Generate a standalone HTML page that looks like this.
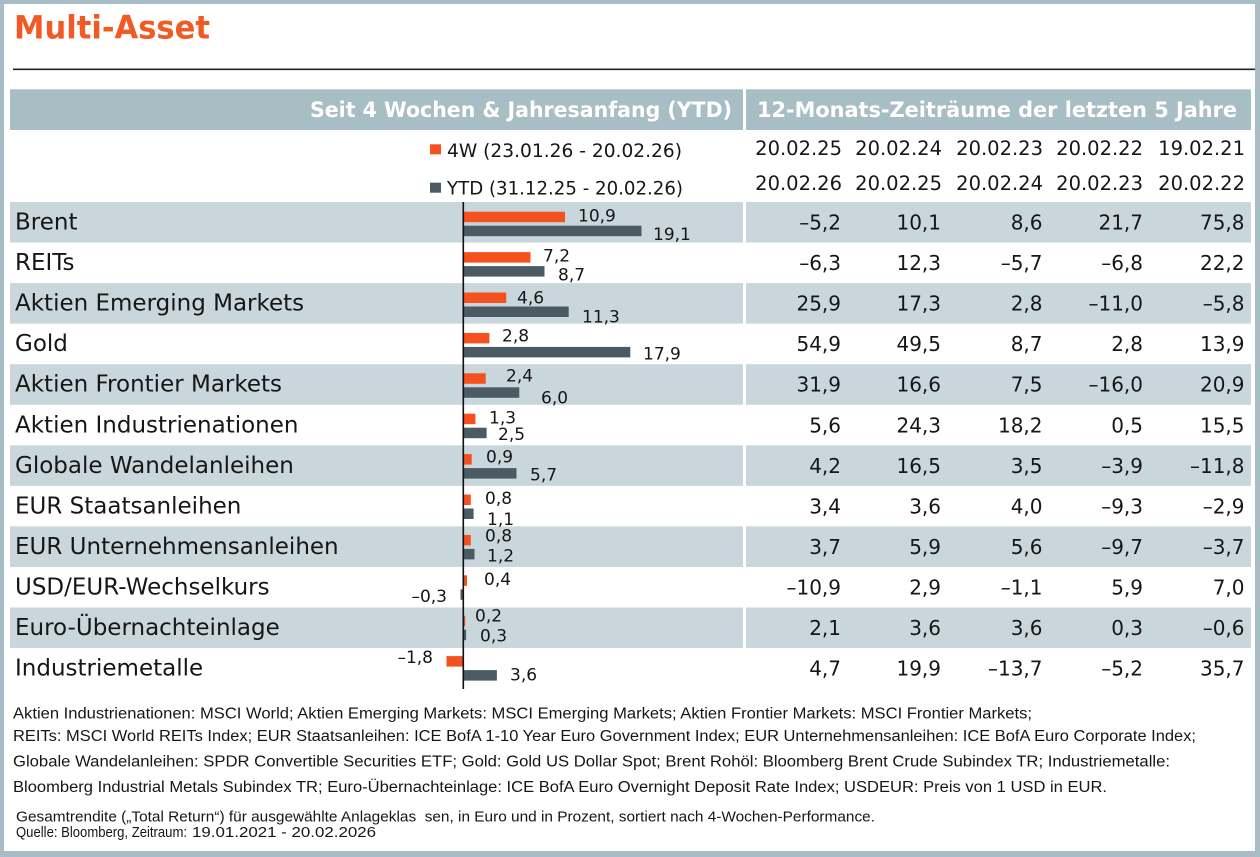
<!DOCTYPE html>
<html>
<head>
<meta charset="utf-8">
<style>
html,body{margin:0;padding:0;background:#a6bdc5;}
svg{display:block;}
.t{font-family:"DejaVu Sans","Liberation Sans",sans-serif;fill:#161616;}
.lbl{font-family:"DejaVu Sans","Liberation Sans",sans-serif;font-size:23px;fill:#161616;}
.val{font-family:"DejaVu Sans","Liberation Sans",sans-serif;font-size:20px;fill:#161616;text-anchor:end;}
.bl{font-family:"DejaVu Sans","Liberation Sans",sans-serif;font-size:17px;fill:#161616;}
.fn{font-family:"Liberation Sans",sans-serif;font-size:15.5px;fill:#161616;}
.fn2{font-family:"Liberation Sans",sans-serif;font-size:14.5px;fill:#161616;white-space:pre;}
</style>
</head>
<body>
<svg width="1260" height="857" viewBox="0 0 1260 857" xmlns="http://www.w3.org/2000/svg">
<rect x="0" y="0" width="1260" height="857" fill="#a6bdc5"/>
<rect x="4" y="4" width="1251" height="847" fill="#ffffff"/>

<!-- Title -->
<text x="14" y="38.5" font-family="DejaVu Sans, Liberation Sans, sans-serif" font-size="32" font-weight="bold" fill="#f15a24" textLength="196" lengthAdjust="spacingAndGlyphs">Multi-Asset</text>
<line x1="13" y1="69.3" x2="1255" y2="69.3" stroke="#222" stroke-width="1.6"/>

<!-- Header bands -->
<rect x="10" y="89.3" width="733" height="40.7" fill="#a8bec5"/>
<rect x="746" y="89.3" width="505" height="40.7" fill="#a8bec5"/>
<text x="310" y="117" font-family="DejaVu Sans, Liberation Sans, sans-serif" font-size="21" font-weight="bold" fill="#ffffff" textLength="422" lengthAdjust="spacingAndGlyphs">Seit 4 Wochen &amp; Jahresanfang (YTD)</text>
<text x="757" y="117" font-family="DejaVu Sans, Liberation Sans, sans-serif" font-size="21" font-weight="bold" fill="#ffffff" textLength="480" lengthAdjust="spacingAndGlyphs">12-Monats-Zeiträume der letzten 5 Jahre</text>

<!-- Legend -->
<rect x="430" y="144.3" width="11" height="10" fill="#f4511e"/>
<text class="t" x="447" y="157" font-size="19" textLength="235" lengthAdjust="spacingAndGlyphs">4W (23.01.26 - 20.02.26)</text>
<rect x="430" y="182.7" width="11" height="10" fill="#4b5b63"/>
<text class="t" x="447" y="194.5" font-size="19" textLength="236" lengthAdjust="spacingAndGlyphs">YTD (31.12.25 - 20.02.26)</text>

<!-- Date headers -->
<g class="t" font-size="19.5" text-anchor="end">
<text x="842" y="155">20.02.25</text>
<text x="942" y="155">20.02.24</text>
<text x="1043" y="155">20.02.23</text>
<text x="1143" y="155">20.02.22</text>
<text x="1245" y="155">19.02.21</text>
<text x="842" y="190">20.02.26</text>
<text x="942" y="190">20.02.25</text>
<text x="1043" y="190">20.02.24</text>
<text x="1143" y="190">20.02.23</text>
<text x="1245" y="190">20.02.22</text>
</g>

<!-- Row bands -->
<g fill="#c9d6db">
<rect x="10" y="202" width="733" height="40.55"/><rect x="746" y="202" width="505" height="40.55"/>
<rect x="10" y="283.1" width="733" height="40.55"/><rect x="746" y="283.1" width="505" height="40.55"/>
<rect x="10" y="364.2" width="733" height="40.55"/><rect x="746" y="364.2" width="505" height="40.55"/>
<rect x="10" y="445.3" width="733" height="40.55"/><rect x="746" y="445.3" width="505" height="40.55"/>
<rect x="10" y="526.4" width="733" height="40.55"/><rect x="746" y="526.4" width="505" height="40.55"/>
<rect x="10" y="607.5" width="733" height="40.55"/><rect x="746" y="607.5" width="505" height="40.55"/>
</g>

<!-- Row labels -->
<g class="lbl">
<text x="15" y="229.5">Brent</text>
<text x="15" y="270">REITs</text>
<text x="15" y="310.6">Aktien Emerging Markets</text>
<text x="15" y="351.2">Gold</text>
<text x="15" y="391.7">Aktien Frontier Markets</text>
<text x="15" y="432.3">Aktien Industrienationen</text>
<text x="15" y="472.8">Globale Wandelanleihen</text>
<text x="15" y="513.4">EUR Staatsanleihen</text>
<text x="15" y="553.9">EUR Unternehmensanleihen</text>
<text x="15" y="594.5">USD/EUR-Wechselkurs</text>
<text x="15" y="635">Euro-Übernachteinlage</text>
<text x="15" y="675.5">Industriemetalle</text>
</g>

<!-- Bars -->
<g fill="#f4511e">
<rect x="463.3" y="211.7" width="101.7" height="10.5"/>
<rect x="463.3" y="252.1" width="67.2" height="10.5"/>
<rect x="463.3" y="292.5" width="42.9" height="10.5"/>
<rect x="463.3" y="332.9" width="26.1" height="10.5"/>
<rect x="463.3" y="373.3" width="22.4" height="10.5"/>
<rect x="463.3" y="413.7" width="12.1" height="10.5"/>
<rect x="463.3" y="454.1" width="8.4" height="10.5"/>
<rect x="463.3" y="494.5" width="7.5" height="10.5"/>
<rect x="463.3" y="534.9" width="7.5" height="10.5"/>
<rect x="463.3" y="575.3" width="3.7" height="10.5"/>
<rect x="463.3" y="615.7" width="1.9" height="10.5"/>
<rect x="446.5" y="656.1" width="16.8" height="10.5"/>
</g>
<g fill="#4b5b63">
<rect x="463.3" y="225.7" width="178.2" height="10.5"/>
<rect x="463.3" y="266.1" width="81.2" height="10.5"/>
<rect x="463.3" y="306.5" width="105.4" height="10.5"/>
<rect x="463.3" y="346.9" width="167.0" height="10.5"/>
<rect x="463.3" y="387.3" width="56.0" height="10.5"/>
<rect x="463.3" y="427.7" width="23.3" height="10.5"/>
<rect x="463.3" y="468.1" width="53.2" height="10.5"/>
<rect x="463.3" y="508.5" width="10.3" height="10.5"/>
<rect x="463.3" y="548.9" width="11.2" height="10.5"/>
<rect x="460.5" y="589.3" width="2.8" height="10.5"/>
<rect x="463.3" y="629.7" width="2.8" height="10.5"/>
<rect x="463.3" y="670.1" width="33.6" height="10.5"/>
</g>

<!-- Bar labels -->
<g class="bl">
<text x="578" y="221.7">10,9</text><text x="653" y="240">19,1</text>
<text x="543" y="261.7">7,2</text><text x="558" y="280.7">8,7</text>
<text x="517" y="303.3">4,6</text><text x="582" y="322.7">11,3</text>
<text x="502" y="341.7">2,8</text><text x="643" y="359.3">17,9</text>
<text x="506" y="381.7">2,4</text><text x="541" y="403.3">6,0</text>
<text x="489" y="423.3">1,3</text><text x="498" y="440">2,5</text>
<text x="486" y="462.7">0,9</text><text x="530" y="480.7">5,7</text>
<text x="485" y="504">0,8</text><text x="487" y="525">1,1</text>
<text x="485" y="541.7">0,8</text><text x="487" y="561.7">1,2</text>
<text x="484" y="585">0,4</text><text x="447" y="602" text-anchor="end">–0,3</text>
<text x="475" y="621.7">0,2</text><text x="480" y="641.7">0,3</text>
<text x="433" y="663" text-anchor="end">–1,8</text><text x="510" y="680.7">3,6</text>
</g>

<!-- Axis -->
<line x1="463.3" y1="202" x2="463.3" y2="689" stroke="#111" stroke-width="1.6"/>

<!-- Values -->
<g class="val">
<text x="841" y="229.5">–5,2</text><text x="941" y="229.5">10,1</text><text x="1042.5" y="229.5">8,6</text><text x="1143" y="229.5">21,7</text><text x="1244.5" y="229.5">75,8</text>
<text x="841" y="270">–6,3</text><text x="941" y="270">12,3</text><text x="1042.5" y="270">–5,7</text><text x="1143" y="270">–6,8</text><text x="1244.5" y="270">22,2</text>
<text x="841" y="310.6">25,9</text><text x="941" y="310.6">17,3</text><text x="1042.5" y="310.6">2,8</text><text x="1143" y="310.6">–11,0</text><text x="1244.5" y="310.6">–5,8</text>
<text x="841" y="351.2">54,9</text><text x="941" y="351.2">49,5</text><text x="1042.5" y="351.2">8,7</text><text x="1143" y="351.2">2,8</text><text x="1244.5" y="351.2">13,9</text>
<text x="841" y="391.7">31,9</text><text x="941" y="391.7">16,6</text><text x="1042.5" y="391.7">7,5</text><text x="1143" y="391.7">–16,0</text><text x="1244.5" y="391.7">20,9</text>
<text x="841" y="432.3">5,6</text><text x="941" y="432.3">24,3</text><text x="1042.5" y="432.3">18,2</text><text x="1143" y="432.3">0,5</text><text x="1244.5" y="432.3">15,5</text>
<text x="841" y="472.8">4,2</text><text x="941" y="472.8">16,5</text><text x="1042.5" y="472.8">3,5</text><text x="1143" y="472.8">–3,9</text><text x="1244.5" y="472.8">–11,8</text>
<text x="841" y="513.4">3,4</text><text x="941" y="513.4">3,6</text><text x="1042.5" y="513.4">4,0</text><text x="1143" y="513.4">–9,3</text><text x="1244.5" y="513.4">–2,9</text>
<text x="841" y="553.9">3,7</text><text x="941" y="553.9">5,9</text><text x="1042.5" y="553.9">5,6</text><text x="1143" y="553.9">–9,7</text><text x="1244.5" y="553.9">–3,7</text>
<text x="841" y="594.5">–10,9</text><text x="941" y="594.5">2,9</text><text x="1042.5" y="594.5">–1,1</text><text x="1143" y="594.5">5,9</text><text x="1244.5" y="594.5">7,0</text>
<text x="841" y="635">2,1</text><text x="941" y="635">3,6</text><text x="1042.5" y="635">3,6</text><text x="1143" y="635">0,3</text><text x="1244.5" y="635">–0,6</text>
<text x="841" y="675.5">4,7</text><text x="941" y="675.5">19,9</text><text x="1042.5" y="675.5">–13,7</text><text x="1143" y="675.5">–5,2</text><text x="1244.5" y="675.5">35,7</text>
</g>

<!-- Footnotes -->
<text class="fn" x="13" y="718.5" textLength="1019" lengthAdjust="spacingAndGlyphs">Aktien Industrienationen: MSCI World; Aktien Emerging Markets: MSCI Emerging Markets; Aktien Frontier Markets: MSCI Frontier Markets;</text>
<text class="fn" x="13" y="741" textLength="1183" lengthAdjust="spacingAndGlyphs">REITs: MSCI World REITs Index; EUR Staatsanleihen: ICE BofA 1-10 Year Euro Government Index; EUR Unternehmensanleihen: ICE BofA Euro Corporate Index;</text>
<text class="fn" x="13" y="766.5" textLength="1157" lengthAdjust="spacingAndGlyphs">Globale Wandelanleihen: SPDR Convertible Securities ETF; Gold: Gold US Dollar Spot; Brent Rohöl: Bloomberg Brent Crude Subindex TR; Industriemetalle:</text>
<text class="fn" x="13" y="792" textLength="1094" lengthAdjust="spacingAndGlyphs">Bloomberg Industrial Metals Subindex TR; Euro-Übernachteinlage: ICE BofA Euro Overnight Deposit Rate Index; USDEUR: Preis von 1 USD in EUR.</text>
<text class="fn2" x="16" y="821.7" textLength="859" lengthAdjust="spacingAndGlyphs">Gesamtrendite („Total Return“) für ausgewählte Anlageklas  sen, in Euro und in Prozent, sortiert nach 4-Wochen-Performance.</text>
<text class="fn2" x="16" y="837" textLength="171" lengthAdjust="spacingAndGlyphs">Quelle: Bloomberg, Zeitraum:</text>
<text class="fn2" x="192" y="837" textLength="184" lengthAdjust="spacingAndGlyphs">19.01.2021 - 20.02.2026</text>
</svg>
</body>
</html>
